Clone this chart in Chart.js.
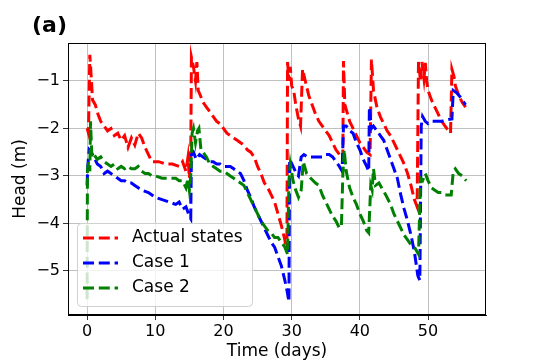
<!DOCTYPE html>
<html>
<head>
<meta charset="utf-8">
<script src="https://cdn.jsdelivr.net/npm/chart.js@4.4.0/dist/chart.umd.min.js"></script>
<style>
  html, body { margin: 0; padding: 0; background: #fff; }
</style>
</head>
<body>
<canvas id="myChart" width="540" height="360"></canvas>
<script>
'use strict'
// values (days, head in m)
var actualDays = [0.0, 0.2, 0.4, 0.6, 0.8, 1.2, 1.6, 2.0, 2.5, 3.0, 3.5, 4.0, 4.5, 5.0, 5.5, 6.0, 6.5, 7.0, 7.5, 8.0, 8.5, 9.0, 9.5, 10.5, 11.5, 12.5, 13.5, 14.0, 14.5, 14.8, 15.0, 15.2,
  15.3, 15.6, 15.9, 16.1, 16.3, 16.6, 17.0, 17.5, 18.0, 18.5, 19.0, 19.5, 20.0, 20.5, 21.0, 21.5, 22.0, 22.5, 23.0, 23.5, 24.0, 24.5, 25.0, 25.5, 26.0, 26.5, 27.0, 27.5, 28.0, 28.5, 29.0, 29.3,
  29.4, 29.6, 29.8, 30.0, 30.3, 30.6, 31.0, 31.3, 31.6, 32.0, 32.5, 33.0, 33.5, 34.0, 34.5, 35.0, 35.5, 36.0, 36.5, 37.0, 37.5,
  37.6, 37.8, 38.5, 39.0, 39.5, 40.0, 40.5, 41.0, 41.5, 41.7, 42.0, 42.5, 43.0, 43.5, 44.0, 44.5, 45.0, 45.5, 46.0, 46.5, 47.0, 47.5, 48.0, 48.4,
  48.6, 48.9, 49.1, 49.4, 49.6, 49.8, 50.0, 50.5, 51.0, 51.5, 52.0, 52.5, 53.0, 53.3, 53.5, 53.8, 54.0, 54.5, 55.0, 55.5];
var actualHead = [-2.0, -2.1, -0.45, -0.9, -1.4, -1.5, -1.7, -1.85, -1.95, -2.05, -2.0, -2.15, -2.1, -2.25, -2.15, -2.4, -2.2, -2.35, -2.1, -2.2, -2.4, -2.55, -2.7, -2.7, -2.75, -2.75, -2.8, -2.7, -2.9, -2.6, -3.05, -2.6,
  -0.5, -0.7, -1.0, -0.6, -1.2, -1.3, -1.45, -1.55, -1.65, -1.75, -1.85, -1.9, -2.0, -2.1, -2.15, -2.2, -2.25, -2.3, -2.35, -2.45, -2.5, -2.6, -2.8, -2.95, -3.15, -3.25, -3.4, -3.55, -3.8, -4.05, -4.35, -4.6,
  -0.6, -1.0, -0.7, -1.1, -1.2, -1.5, -1.8, -1.95, -0.75, -1.0, -1.3, -1.5, -1.7, -1.85, -1.95, -2.05, -2.15, -2.3, -2.45, -2.55, -2.65,
  -0.58, -1.5, -1.85, -2.0, -2.15, -2.3, -2.4, -2.5, -2.55, -0.55, -1.2, -1.55, -1.75, -1.9, -2.05, -2.15, -2.3, -2.45, -2.6, -2.75, -2.95, -3.2, -3.5, -3.65,
  -0.6, -1.0, -0.6, -0.95, -0.62, -1.0, -1.2, -1.4, -1.55, -1.7, -1.85, -1.95, -2.05, -2.1, -0.75, -0.9, -1.1, -1.3, -1.45, -1.55];

var case1Days = [0.0, 0.1, 0.3, 0.6, 1.0, 1.5, 2.0, 2.5, 3.0, 3.5, 4.0, 4.5, 5.0, 5.5, 6.0, 6.5, 7.0, 7.5, 8.0, 9.0, 10.0, 11.0, 12.0, 13.0, 13.5, 14.0, 14.5, 15.0, 15.2,
  15.3, 15.6, 16.0, 16.5, 17.0, 17.5, 18.0, 18.5, 19.0, 19.5, 20.0, 20.5, 21.0, 21.5, 22.0, 22.5, 23.0, 23.5, 24.0, 24.5, 25.0, 25.5, 26.0, 26.5, 27.0, 27.5, 28.0, 28.5, 29.0, 29.3, 29.6,
  29.7, 30.2, 30.7, 31.0, 31.4, 31.8, 32.3, 33.0, 33.7, 34.5, 35.0, 35.5, 36.0, 36.5, 37.0, 37.4,
  37.6, 38.0, 38.5, 39.0, 39.5, 40.0, 40.5, 41.0, 41.3, 41.4, 41.7, 42.0, 42.5, 43.0, 43.5, 44.0, 44.5, 45.0, 45.5, 46.0, 46.5, 47.0, 47.5, 48.0, 48.5, 48.8,
  49.0, 49.2, 49.6, 50.0, 50.5, 51.0, 52.0, 52.7, 53.5, 53.7, 54.2, 54.8, 55.5];
var case1Head = [-3.2, -2.8, -2.45, -2.5, -2.6, -2.75, -2.8, -2.95, -2.9, -2.95, -3.0, -3.05, -3.1, -3.1, -3.15, -3.15, -3.2, -3.25, -3.3, -3.35, -3.45, -3.5, -3.55, -3.6, -3.55, -3.7, -3.65, -3.85, -3.9,
  -2.55, -2.5, -2.65, -2.55, -2.6, -2.65, -2.7, -2.7, -2.75, -2.75, -2.8, -2.8, -2.8, -2.85, -2.9, -2.95, -3.1, -3.3, -3.45, -3.65, -3.8, -3.95, -4.1, -4.25, -4.4, -4.5, -4.7, -4.9, -5.2, -5.4, -5.65,
  -2.65, -2.8, -2.95, -3.0, -2.6, -2.55, -2.6, -2.6, -2.6, -2.6, -2.55, -2.55, -2.6, -2.7, -2.8, -2.9,
  -1.95, -1.95, -2.05, -2.1, -2.3, -2.45, -2.65, -2.8, -2.9, -1.55, -2.0, -1.95, -2.05, -2.15, -2.25, -2.45, -2.65, -2.85, -3.05, -3.4, -3.7, -3.95, -4.25, -4.6, -5.1, -5.2,
  -1.95, -1.75, -1.85, -1.9, -1.85, -1.85, -1.85, -1.82, -1.8, -1.2, -1.25, -1.35, -1.5];

var case2Days = [0.0, 0.05, 0.2, 0.4, 0.5, 0.7, 1.0, 1.5, 2.0, 2.5, 3.0, 3.5, 4.0, 4.5, 5.0, 5.5, 6.0, 6.5, 7.0, 7.5, 8.0, 8.5, 9.0, 9.5, 10.0, 11.0, 12.0, 13.0, 13.5, 14.0, 14.5, 14.8, 15.0, 15.2,
  15.4, 15.6, 15.9, 16.2, 16.4, 16.7, 17.0, 17.5, 18.0, 18.5, 19.0, 19.5, 20.0, 20.5, 21.0, 21.5, 22.0, 22.5, 23.0, 23.5, 24.0, 24.5, 25.0, 25.5, 26.0, 26.5, 27.0, 27.5, 28.0, 28.5, 29.0, 29.4,
  29.6, 29.8, 30.2, 30.6, 31.0, 31.4, 31.7, 32.2, 32.8, 33.5, 34.0, 34.5, 35.0, 35.5, 36.0, 36.5, 37.0, 37.3,
  37.5, 37.7, 38.0, 38.5, 39.0, 39.5, 40.0, 40.5, 41.0, 41.3, 41.6, 41.8, 42.0, 42.3, 42.8, 43.2, 43.8, 44.5, 45.0, 45.5, 46.0, 46.5, 47.0, 47.5, 48.0, 48.6,
  48.9, 49.2, 49.6, 50.0, 50.5, 51.0, 51.5, 52.0, 52.5, 53.0, 53.4, 53.7, 54.0, 54.5, 55.0, 55.6];
var case2Head = [-5.6, -2.9, -2.7, -2.9, -1.85, -2.6, -2.55, -2.65, -2.6, -2.7, -2.75, -2.8, -2.75, -2.85, -2.8, -2.85, -2.8, -2.85, -2.85, -2.8, -2.9, -2.95, -2.95, -3.0, -3.0, -3.05, -3.05, -3.05, -3.1, -3.1, -3.25, -3.05, -3.3, -3.0,
  -2.1, -2.0, -2.3, -2.05, -2.0, -2.45, -2.5, -2.6, -2.75, -2.8, -2.85, -2.9, -2.9, -2.95, -3.0, -3.05, -3.1, -3.15, -3.2, -3.35, -3.5, -3.65, -3.8, -3.95, -4.05, -4.15, -4.2, -4.3, -4.3, -4.4, -4.5, -4.65,
  -3.1, -2.75, -3.1, -3.3, -3.45, -3.3, -2.7, -2.95, -3.05, -3.15, -3.2, -3.4, -3.55, -3.7, -3.85, -3.95, -4.1, -4.05,
  -3.0, -2.45, -2.9, -3.25, -3.45, -3.6, -3.8, -3.95, -4.15, -4.2, -3.2, -3.3, -2.85, -3.2, -3.15, -3.25, -3.4, -3.6, -3.8, -3.95, -4.1, -4.25, -4.35, -4.45, -4.5, -4.65,
  -3.05, -3.1, -2.95, -3.1, -3.25, -3.3, -3.35, -3.35, -3.4, -3.4, -3.4, -2.9, -2.85, -2.95, -3.0, -3.1];

var seriesNames = ['Actual states', 'Case 1', 'Case 2'];
var seriesColors = ['#ff0000', '#0000ff', '#008000'];
var xTicks = [0, 10, 20, 30, 40, 50];
var yTicks = [-5, -4, -3, -2, -1];

function toPoints(days, head) {
  var pts = [];
  for (var i = 0; i < days.length; i++) {
    pts.push({ x: days[i], y: head[i] });
  }
  return pts;
}

var dash = [11, 4.8];
var font = 'DejaVu Sans';

// frame, legend box and the panel letter
var extras = {
  id: 'extras',
  afterDatasetsDraw: function (chart) {
    var ctx = chart.ctx;
    var a = chart.chartArea;
    ctx.save();
    ctx.strokeStyle = '#000';
    ctx.lineWidth = 1;
    ctx.setLineDash([]);
    ctx.strokeRect(a.left + 0.5, a.top + 0.5, a.right - a.left - 1, a.bottom - a.top - 1);

    // legend
    var bx = 77, by = 223, bw = 175, bh = 83;
    ctx.beginPath();
    ctx.roundRect(bx + 0.5, by + 0.5, bw, bh, 4);
    ctx.fillStyle = 'rgba(255,255,255,0.8)';
    ctx.fill();
    ctx.strokeStyle = '#d0d0d0';
    ctx.stroke();
    ctx.font = '17px "' + font + '"';
    ctx.textBaseline = 'middle';
    for (var i = 0; i < seriesNames.length; i++) {
      var y = 238 + i * 25;
      ctx.beginPath();
      ctx.strokeStyle = seriesColors[i];
      ctx.lineWidth = 3;
      ctx.setLineDash(dash);
      ctx.moveTo(83, y);
      ctx.lineTo(118, y);
      ctx.stroke();
      ctx.fillStyle = '#000';
      ctx.fillText(seriesNames[i], 132, y);
    }

    ctx.font = 'bold 22px "' + font + '"';
    ctx.fillStyle = '#000';
    ctx.fillText('(a)', 32, 26);
    ctx.restore();
  }
};

var ctx = document.getElementById('myChart').getContext('2d');
var chart = new Chart(ctx, {
  type: 'line',
  data: {
    datasets: [
      { label: seriesNames[0], data: toPoints(actualDays, actualHead), borderColor: seriesColors[0], order: 3 },
      { label: seriesNames[1], data: toPoints(case1Days, case1Head), borderColor: seriesColors[1], order: 2 },
      { label: seriesNames[2], data: toPoints(case2Days, case2Head), borderColor: seriesColors[2], order: 1 }
    ]
  },
  options: {
    responsive: false,
    devicePixelRatio: 1,
    animation: false,
    layout: { padding: { top: 43, right: 54, left: 0, bottom: 0 } },
    elements: {
      line: { borderWidth: 3, borderDash: dash, tension: 0, fill: false },
      point: { radius: 0 }
    },
    plugins: {
      legend: { display: false },
      tooltip: { enabled: false }
    },
    scales: {
      x: {
        type: 'linear',
        min: -2.8,
        max: 58.5,
        afterBuildTicks: function (scale) {
          scale.ticks = xTicks.map(function (v) { return { value: v }; });
        },
        afterFit: function (scale) { scale.height = 45; },
        grid: { color: '#b0b0b0', lineWidth: 0.8, tickColor: '#000', tickLength: 5 },
        border: { color: '#000', width: 1 },
        ticks: { color: '#000', padding: 2, maxRotation: 0, font: { family: font, size: 16 } },
        title: { display: true, text: 'Time (days)', color: '#000', padding: { top: 0, bottom: 0 }, font: { family: font, size: 17, lineHeight: 1.0 } }
      },
      y: {
        type: 'linear',
        min: -5.93,
        max: -0.2,
        afterBuildTicks: function (scale) {
          scale.ticks = yTicks.map(function (v) { return { value: v }; });
        },
        afterFit: function (scale) { scale.width = 68; },
        grid: { color: '#b0b0b0', lineWidth: 0.8, tickColor: '#000', tickLength: 5 },
        border: { color: '#000', width: 1 },
        ticks: {
          color: '#000', padding: 3, font: { family: font, size: 16 },
          callback: function (v) { return v < 0 ? '\u2212' + Math.abs(v) : '' + v; }
        },
        title: { display: true, text: 'Head (m)', color: '#000', padding: { top: 10, bottom: 0 }, font: { family: font, size: 17 } }
      }
    }
  },
  plugins: [extras]
});
</script>
</body>
</html>
